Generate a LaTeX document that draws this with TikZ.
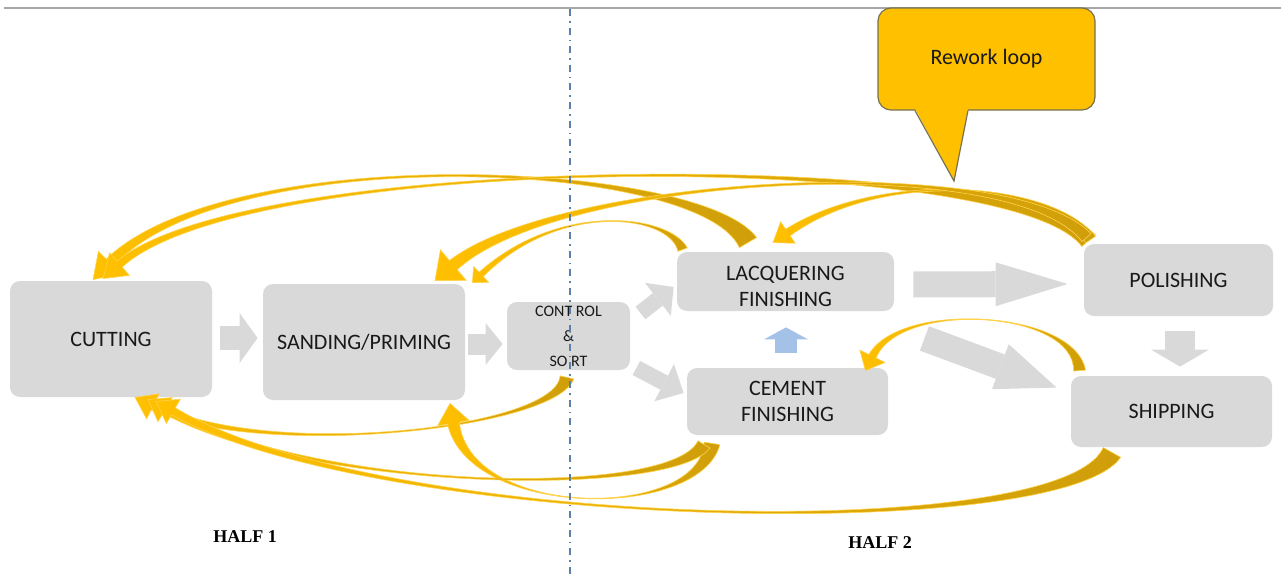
\documentclass[tikz,border=0pt]{standalone}
\usepackage{fontspec}
\setmainfont{Carlito}
\newfontfamily\halffont{Liberation Serif}
\usetikzlibrary{
  calc,
  arrows.meta
}
\definecolor{stepgray}{HTML}{D9D9D9}
\definecolor{loopgold}{HTML}{FFC000}
\definecolor{loopdark}{HTML}{CF9E0A}
\definecolor{loopedge}{HTML}{77714F}
\definecolor{liftblue}{HTML}{A4C2E8}
\definecolor{splitblue}{HTML}{5A7FA8}
\tikzset{
  stage/.style={
    fill=stepgray,
    rounded corners=5pt,
    inner sep=0pt,
    align=center,
    text=black!90,
    font=\fontsize{11}{13}\selectfont
  },
  flow/.style n args={3}{
    draw=stepgray,
    line width=#1,
    -{Triangle[width=#2,length=#3,line width=0pt]}
  },
  rework/.style={
    left color=loopgold,
    right color=loopdark,
    draw=loopgold!70!white,
    line width=0.3pt
  },
  note/.style={
    fill=loopgold,
    draw=loopedge,
    line width=0.6pt,
    rounded corners=6.5pt,
    text=black!90,
    font=\fontsize{11}{13}\selectfont
  },
  halflabel/.style={font=\halffont\bfseries\fontsize{9}{11}\selectfont},
  rw tail/.store in=\rwtail,
  rw neck/.store in=\rwneck,
  rw barb/.store in=\rwbarb,
  rw head/.store in=\rwhead,
  rw tail=4pt, rw neck=2pt, rw barb=7pt, rw head=10pt
}
% tapered rework band: tail, two controls, tip
\newcommand\reworkarrow[5][]{%
  \begin{scope}[#1]
    \coordinate (rw-base) at ($(#5)!\rwhead!(#4)$);
    \path[rework]
      ($(#2)!\rwtail!90:(#3)$) .. controls (#3) and (#4) .. ($(rw-base)!\rwneck!90:(#5)$)
      -- ($(rw-base)!\rwbarb!90:(#5)$) -- (#5) -- ($(rw-base)!\rwbarb!-90:(#5)$)
      -- ($(rw-base)!\rwneck!-90:(#5)$) .. controls (#4) and (#3) .. ($(#2)!\rwtail!-90:(#3)$)
      -- cycle;
  \end{scope}}

\begin{document}
\begin{tikzpicture}[x=0.5pt,y=-0.5pt]
  \useasboundingbox (0,0) rectangle (1281,578);
  \draw[draw=gray!70, line width=0.8pt] (4,8) -- (1281,8);

  \node[stage, minimum width=101pt, minimum height=58pt] (cut) at (111,339) {CUTTING};
  \node[stage, minimum width=101pt, minimum height=58pt] (sand) at (364,342) {SANDING/PRIMING};
  \node[stage, minimum width=61.5pt, minimum height=34pt, font=\fontsize{8}{12.5}\selectfont] (ctrl) at (568.5,336) {CONT ROL\\\&\\SO RT};
  \node[stage, minimum width=108.5pt, minimum height=29.5pt, text height=25.5pt] (lacq) at (785.5,281.5) {LACQUERING\\FINISHING};
  \node[stage, minimum width=100.5pt, minimum height=33.5pt] (cem) at (787.5,401.5) {CEMENT\\FINISHING};
  \node[stage, minimum width=94.5pt, minimum height=36pt] (pol) at (1178.5,280) {POLISHING};
  \node[stage, minimum width=100.5pt, minimum height=35.5pt] (ship) at (1171.5,411.5) {SHIPPING};

  \draw[flow={12pt}{25pt}{9pt}] ([shift={(8,-1)}]cut.east) -- ([shift={(-5,-4)}]sand.west);
  \draw[flow={10.5pt}{21pt}{8.5pt}] ([shift={(3,2)}]sand.east) -- ([shift={(-4,8)}]ctrl.west);
  \draw[flow={8pt}{21pt}{10pt}] ([shift={(10,-23)}]ctrl.east) -- ([shift={(-3,5.5)}]lacq.west);
  \draw[flow={8pt}{21pt}{11pt}] ([shift={(6,32)}]ctrl.east) -- ([shift={(-3,-8.5)}]cem.west);
  \draw[flow={13pt}{22pt}{36pt}] ([shift={(19,3)}]lacq.east) -- ([shift={(-16,4)}]pol.west);
  \draw[flow={15pt}{29pt}{8.5pt}] ([shift={(1.5,15)}]pol.south) -- ([shift={(8.5,-9)}]ship.north);
  \draw[flow={13pt}{24pt}{30pt}] ([shift={(30,27)}]lacq.south east) -- ([shift={(-14,12)}]ship.north west);
  \draw[flow={11pt}{22pt}{6pt}, draw=liftblue] ([shift={(-1.5,-15)}]cem.north) -- ([shift={(0.5,16)}]lacq.south);

  \reworkarrow[rw tail=5pt, rw neck=2.5pt, rw barb=8pt, rw head=12pt]
    {[shift={(-37.5,-9)}]lacq.north}{700,160}{230,140}{[shift={(-18,-1)}]cut.north}
  \reworkarrow[rw tail=4.5pt, rw neck=2pt, rw barb=7.5pt, rw head=11pt]
    {[shift={(5,-3)}]pol.north west}{1010,150}{250,150}{[shift={(-8,-2)}]cut.north}
  \reworkarrow[rw tail=3pt, rw neck=2pt, rw barb=6.5pt, rw head=9pt]
    {[shift={(7,-4)}]pol.north west}{1050,180}{880,170}{[shift={(-12.5,-9)}]lacq.north}
  \reworkarrow[rw tail=3pt, rw neck=3pt, rw barb=10pt, rw head=12pt]
    {[shift={(3,-6)}]pol.north west}{1010,150}{560,175}{[shift={(71,-3)}]sand.north}
  \reworkarrow[rw tail=2.5pt, rw neck=1.5pt, rw barb=5.5pt, rw head=6pt]
    {[shift={(6,-2)}]lacq.north west}{670,215}{560,200}{[shift={(7,-1)}]sand.north east}
  \reworkarrow[rw tail=3.5pt, rw neck=2pt, rw barb=7pt, rw head=10pt]
    {[shift={(-1.5,7)}]ctrl.south}{555,430}{260,460}{[shift={(24,0)}]cut.south}
  \reworkarrow[rw tail=4pt, rw neck=3pt, rw barb=8pt, rw head=10pt]
    {[shift={(-75.5,8)}]cem.south}{700,520}{470,520}{[shift={(86,3)}]sand.south}
  \reworkarrow[rw tail=3.5pt, rw neck=2pt, rw barb=7pt, rw head=10pt]
    {[shift={(-83.5,9)}]cem.south}{670,500}{300,490}{[shift={(37,2)}]cut.south}
  \reworkarrow[rw tail=3pt, rw neck=2pt, rw barb=7pt, rw head=8pt]
    {[shift={(9,-5)}]ship.north west}{1075,310}{900,300}{[shift={(-23,3)}]cem.north east}
  \reworkarrow[rw tail=5pt, rw neck=2pt, rw barb=7pt, rw head=10pt]
    {[shift={(-59.5,5)}]ship.south}{1060,545}{380,530}{[shift={(45,4)}]cut.south}

  \node[note, minimum width=108.5pt, minimum height=51pt] (loop) at (986.5,59) {Rework loop};
  \coordinate (loop-tip) at (954,181);
  \fill[loopgold] ([shift={(-71.5,-2)}]loop.south) -- (loop-tip) -- ([shift={(-18.5,-2)}]loop.south) -- cycle;
  \draw[loopedge, line width=0.6pt, line join=miter] ([shift={(-71.5,0)}]loop.south) -- (loop-tip) -- ([shift={(-18.5,0)}]loop.south);

  \node[halflabel] (half1) at (245,537) {HALF 1};
  \node[halflabel] (half2) at (880,543) {HALF 2};

  \draw[splitblue, line width=0.6pt, dash pattern=on 3.5pt off 2.5pt on 0.8pt off 2.5pt] (570,9) -- (570,578);
\end{tikzpicture}
\end{document}
